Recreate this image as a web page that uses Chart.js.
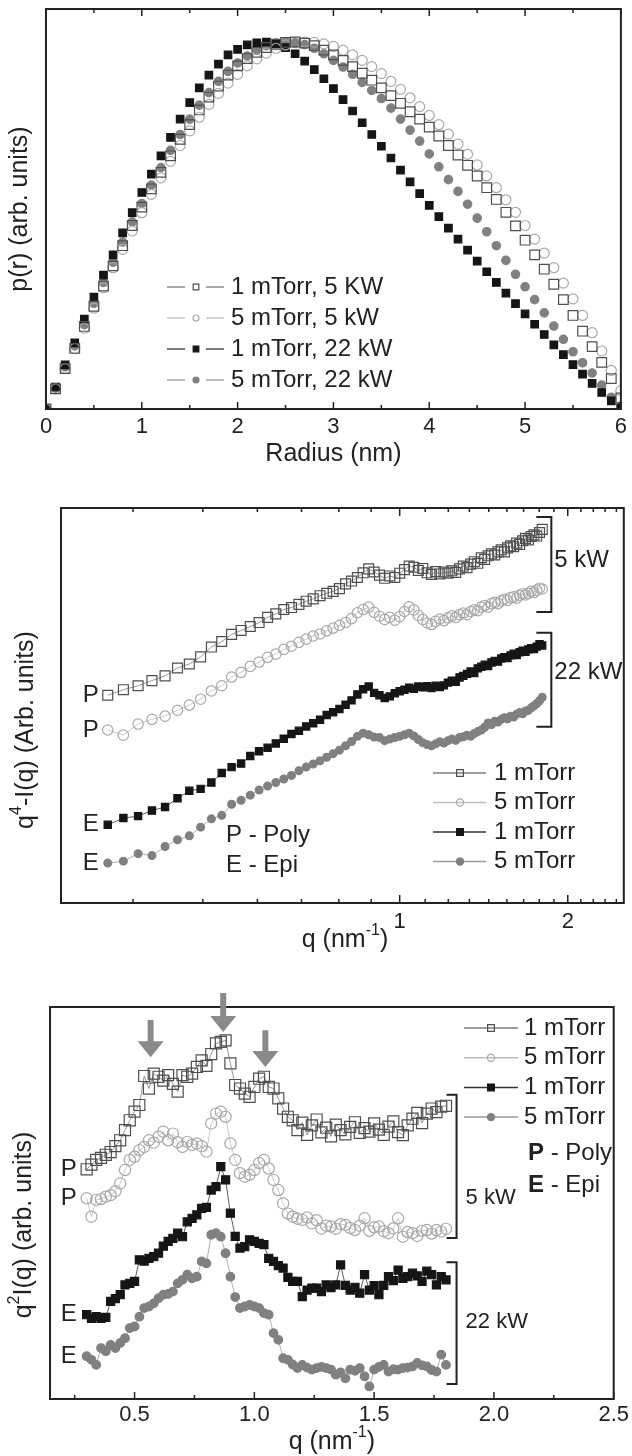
<!DOCTYPE html>
<html>
<head>
<meta charset="utf-8">
<script src="https://cdn.jsdelivr.net/npm/chart.js@4.4.1/dist/chart.umd.min.js"></script>
<style>
  html, body { margin: 0; padding: 0; background: #fff; }
  body { width: 632px; height: 1456px; position: relative; overflow: hidden; }
  .panel { position: absolute; left: 0; width: 632px; }
</style>
</head>
<body>
<div class="panel" style="top:0;height:480px"><canvas id="pr"></canvas></div>
<div class="panel" style="top:480px;height:480px"><canvas id="porod"></canvas></div>
<div class="panel" style="top:960px;height:496px"><canvas id="kratky"></canvas></div>
<script>
// ---------- panel 1: pair distance distribution p(r) ----------
const radius = [0.0,0.1,0.2,0.3,0.4,0.5,0.6,0.7,0.8,0.9,1.0,1.1,1.2,1.3,1.4,1.5,1.6,1.7,1.8,1.9,
  2.0,2.1,2.2,2.3,2.4,2.5,2.6,2.7,2.8,2.9,3.0,3.1,3.2,3.3,3.4,3.5,3.6,3.7,3.8,3.9,
  4.0,4.1,4.2,4.3,4.4,4.5,4.6,4.7,4.8,4.9,5.0,5.1,5.2,5.3,5.4,5.5,5.6,5.7,5.8,5.9,6.0];
const pr_1mT_5kW = [0,0.055,0.11,0.165,0.225,0.28,0.335,0.39,0.445,0.5,0.55,0.6,0.645,0.69,0.735,0.775,0.815,0.85,0.88,0.91,
  0.935,0.955,0.972,0.985,0.994,0.999,1.0,0.997,0.99,0.978,0.965,0.95,0.933,0.915,0.896,0.875,0.854,0.833,0.81,0.79,
  0.768,0.744,0.718,0.692,0.664,0.635,0.603,0.571,0.536,0.499,0.46,0.42,0.381,0.34,0.298,0.255,0.212,0.17,0.127,0.083,0.03];
const pr_5mT_5kW = [0,0.055,0.11,0.165,0.22,0.275,0.33,0.385,0.435,0.485,0.535,0.585,0.63,0.675,0.718,0.758,0.795,0.83,0.86,0.888,
  0.912,0.935,0.954,0.97,0.983,0.992,0.998,1.0,0.999,0.995,0.988,0.978,0.965,0.95,0.933,0.914,0.893,0.871,0.848,0.824,
  0.8,0.775,0.749,0.722,0.694,0.665,0.635,0.603,0.57,0.536,0.5,0.463,0.425,0.385,0.343,0.3,0.255,0.208,0.158,0.105,0.05];
const pr_1mT_22kW = [0,0.06,0.12,0.18,0.245,0.305,0.365,0.42,0.48,0.535,0.59,0.64,0.69,0.74,0.79,0.835,0.875,0.91,0.94,0.965,
  0.98,0.992,0.998,1.0,0.995,0.985,0.968,0.948,0.925,0.9,0.873,0.843,0.812,0.78,0.748,0.716,0.684,0.651,0.619,0.587,
  0.555,0.524,0.493,0.463,0.433,0.403,0.374,0.345,0.316,0.287,0.259,0.231,0.203,0.175,0.148,0.121,0.095,0.07,0.045,0.022,0.003];
const pr_5mT_22kW = [0,0.057,0.115,0.172,0.23,0.288,0.345,0.4,0.455,0.51,0.56,0.61,0.658,0.705,0.748,0.79,0.828,0.862,0.893,0.92,
  0.943,0.962,0.978,0.99,0.997,1.0,0.998,0.993,0.983,0.968,0.95,0.932,0.912,0.89,0.868,0.846,0.82,0.79,0.76,0.73,
  0.695,0.66,0.625,0.593,0.558,0.52,0.483,0.445,0.405,0.367,0.333,0.298,0.262,0.226,0.19,0.156,0.126,0.098,0.065,0.032,0.008];
const radiusTicks = [0,0.5,1,1.5,2,2.5,3,3.5,4,4.5,5,5.5,6];
const prLegend = ['1 mTorr, 5 KW', '5 mTorr, 5 kW', '1 mTorr, 22 kW', '5 mTorr, 22 kW'];

// ---------- shared q grid (nm^-1) for panels 2 and 3 ----------
const q = [0.30,0.32,0.34,0.36,0.38,0.40,0.42,0.44,0.46,0.48,0.50,0.52,0.54,0.56,0.58,0.60,0.62,0.64,0.66,0.68,
  0.70,0.72,0.74,0.76,0.78,0.80,0.82,0.84,0.86,0.88,0.90,0.92,0.94,0.96,0.98,1.00,1.02,1.04,1.06,1.08,
  1.10,1.12,1.14,1.16,1.18,1.20,1.22,1.24,1.26,1.28,1.30,1.32,1.34,1.36,1.38,1.40,1.42,1.44,1.46,1.48,
  1.50,1.52,1.54,1.56,1.58,1.60,1.62,1.64,1.66,1.68,1.70,1.72,1.74,1.76,1.78,1.80];

// ---------- panel 2: q^4 I(q), log q axis ----------
const porod_1mT_5kW = [52.6,54.0,55.0,56.3,57.5,59.5,60.5,62.3,64.8,66.2,68.0,69.0,70.0,71.0,72.3,73.2,74.3,74.8,75.6,76.4,
  77.0,77.8,78.4,78.9,79.6,80.8,81.5,82.4,83.6,84.6,83.8,83.0,82.2,82.8,82.4,83.5,84.4,85.3,85.0,84.2,
  84.7,83.6,83.2,83.9,83.3,83.8,83.5,84.1,83.7,84.6,85.3,84.9,85.8,86.4,86.0,87.4,87.0,87.9,88.4,88.1,
  88.9,89.4,88.9,89.9,90.4,90.2,91.1,90.8,91.7,92.3,91.9,92.8,93.2,92.9,93.8,94.6];
const porod_5mT_5kW = [43.8,42.5,45.3,46.5,47.3,48.8,50.1,51.6,53.7,55.0,57.2,58.4,59.9,61.0,62.2,63.0,64.2,65.0,66.0,66.8,
  67.6,68.1,68.9,69.6,70.3,71.0,72.0,73.5,74.3,74.9,73.6,72.6,71.8,72.3,71.6,72.5,73.8,75.0,74.2,72.8,
  71.8,70.9,70.5,71.3,71.9,71.5,72.2,72.7,72.3,73.0,73.4,73.0,73.8,74.2,74.0,74.9,75.3,74.9,75.8,76.1,
  75.8,76.5,76.9,76.6,77.3,77.5,77.2,77.9,78.3,78.0,78.4,78.9,78.6,79.2,79.7,79.5];
const porod_1mT_22kW = [19.8,21.5,22.0,23.4,24.3,26.5,28.4,28.9,30.5,32.9,34.4,35.3,37.2,38.4,39.3,40.4,41.6,42.8,43.6,44.7,
  45.5,46.4,47.6,48.3,49.1,50.2,51.3,52.8,54.1,54.8,53.2,52.6,51.9,52.3,53.1,53.6,54.0,54.5,54.2,54.8,
  54.6,54.9,54.4,55.0,54.7,55.1,55.8,56.3,56.0,57.1,57.5,58.0,58.6,58.2,59.4,59.8,60.3,60.0,60.9,61.3,
  61.1,61.9,62.2,62.0,62.7,63.1,62.8,63.5,63.9,63.6,64.2,64.5,64.3,64.9,65.5,65.2];
const porod_5mT_22kW = [10.1,10.6,12.5,12.0,14.3,16.0,17.0,19.2,21.3,22.2,25.0,26.0,27.3,28.6,29.6,30.5,31.4,32.3,33.5,34.4,
  35.2,36.0,36.9,37.8,38.7,39.8,40.9,42.2,43.0,42.6,42.0,41.9,41.1,41.5,41.9,42.2,42.6,43.0,42.3,41.4,
  40.6,40.1,39.8,40.3,40.8,40.5,41.1,41.5,41.2,41.9,42.1,42.5,42.2,42.9,43.4,43.8,44.5,45.6,45.2,46.0,
  45.8,46.5,46.9,46.6,47.3,47.1,47.8,48.2,47.9,48.6,48.8,49.4,49.9,50.5,51.2,52.1];
const porodTicks = [0.333,0.444,0.556,0.667,0.778,0.889,1,1.111,1.222,1.333,1.444,1.556,1.667,1.778,1.889,2,2.111,2.222,2.333,2.444];
const porodLabelled = [1, 2];

// ---------- panel 3: q^2 I(q), linear q axis ----------
const kratky_1mT_5kW = [58.6,59.8,61.0,61.5,62.3,63.0,64.5,66.0,68.6,71.1,73.3,75.0,82.4,79.2,83.0,82.2,81.2,82.6,80.4,78.4,
  82.6,82.2,83.0,84.7,86.4,85.0,88.0,90.7,91.1,91.5,85.6,80.1,79.2,77.9,77.1,79.6,81.7,82.2,79.6,79.2,
  76.7,74.1,72.0,71.1,68.6,70.5,67.4,69.8,71.3,68.0,69.2,67.0,70.0,68.6,67.5,69.4,70.6,67.9,69.1,68.2,
  70.3,68.7,67.4,69.5,70.8,68.1,67.3,69.8,71.5,73.0,70.4,72.8,74.1,73.2,74.6,74.8];
const kratky_5mT_5kW = [51.2,46.5,50.8,51.0,51.6,52.0,53.0,55.0,58.4,61.0,61.8,63.5,64.3,66.0,65.4,66.9,68.2,66.0,67.7,65.5,
  64.3,65.6,64.8,65.2,64.5,63.1,70.3,72.8,73.3,72.0,65.2,61.0,57.6,56.7,57.2,58.4,60.2,61.0,58.8,55.9,
  53.3,49.9,47.3,46.5,46.0,45.7,46.3,44.8,45.6,43.5,44.2,44.0,43.4,44.6,44.4,43.6,43.1,44.2,46.1,42.9,
  43.8,44.0,42.8,42.3,43.5,46.1,41.4,42.6,42.3,41.6,42.9,43.1,42.2,43.1,42.7,43.4];
const kratky_1mT_22kW = [21.5,20.6,21.0,20.6,20.8,24.9,25.6,26.6,29.1,29.5,30.0,35.5,35.2,35.9,36.3,37.2,39.0,40.2,41.0,42.3,
  41.4,45.2,46.1,47.0,48.6,48.9,53.3,54.2,59.3,55.9,47.4,41.5,38.5,38.9,40.6,40.2,39.7,39.4,35.9,35.1,
  34.0,33.4,31.0,30.0,30.0,26.1,27.8,28.3,28.3,27.4,29.1,28.4,29.1,34.2,29.0,27.8,28.5,27.0,31.7,27.8,
  28.9,26.6,29.0,31.2,30.2,32.9,30.8,31.2,32.1,31.4,30.0,32.6,31.7,29.1,31.2,30.4];
const kratky_5mT_22kW = [10.9,10.0,8.7,13.0,12.2,13.8,13.0,14.3,15.5,18.1,18.5,21.0,23.2,23.6,24.4,25.7,26.6,26.8,27.4,29.5,
  30.4,31.7,30.8,31.2,35.1,34.6,41.9,42.3,41.4,37.2,31.2,26.0,23.2,23.6,24.0,23.6,23.2,21.9,21.5,16.8,
  15.1,10.4,10.0,8.8,7.9,8.7,8.0,7.5,7.9,8.2,7.9,7.5,6.2,6.8,5.3,7.5,7.2,7.9,5.8,3.2,
  7.5,8.2,8.7,7.0,7.6,7.5,7.9,8.0,8.3,9.2,8.6,8.3,7.4,7.0,11.3,8.7];
const kratkyTicks = [0.25,0.5,0.75,1.0,1.25,1.5,1.75,2.0,2.25,2.5];
const seriesLegend = ['1 mTorr', '5 mTorr', '1 mTorr', '5 mTorr'];
const sampleLabels = ['P', 'P', 'E', 'E'];

// annotation anchors, in data units of each panel
const porodBrackets = [
  { q: 1.869, top: 97.7, bottom: 73.7, label: '5 kW', at: 86.8 },
  { q: 1.869, top: 68.4, bottom: 44.6, label: '22 kW', at: 58.5 }
];
const kratkyBrackets = [
  { q: 1.844, top: 77.6, bottom: 41.1, label: '5 kW', at: 51.3 },
  { q: 1.844, top: 34.9, bottom: 3.8, label: '22 kW', at: 19.6 }
];
const kratkyArrows = { q: [0.567, 0.87, 1.046], tail: [96.7, 103.6, 94.1], tip: [87.2, 93.6, 84.7] };

// ---------- styles ----------
const FONT = "'Liberation Sans', Arial, Helvetica, sans-serif";
const INK = '#222';
const STYLES = [
  { pointStyle: 'rect',   stroke: '#4f4f4f', fill: 'rgba(255,255,255,0)', line: '#7c7c7c' },
  { pointStyle: 'circle', stroke: '#a9a9a9', fill: 'rgba(255,255,255,0)', line: '#bdbdbd' },
  { pointStyle: 'rect',   stroke: '#151515', fill: '#151515', line: '#333' },
  { pointStyle: 'circle', stroke: '#808080', fill: '#808080', line: '#9a9a9a' }
];

function dataset(xs, ys, style, r, showLine) {
  return {
    data: xs.map((x, i) => ({ x: x, y: ys[i] })),
    showLine: showLine,
    borderColor: style.line,
    borderWidth: 0.8,
    pointStyle: style.pointStyle,
    pointRadius: r,
    pointHoverRadius: r,
    pointBorderColor: style.stroke,
    pointBackgroundColor: style.fill,
    pointBorderWidth: 1.2
  };
}

// ---------- drawing helpers ----------
function frame(chart, opts) {
  const { ctx, chartArea: a } = chart;
  const xs = chart.scales.x;
  ctx.save();
  ctx.strokeStyle = INK;
  ctx.lineWidth = 1.5;
  xs.ticks.forEach(t => {
    const x = xs.getPixelForValue(t.value);
    const len = opts.isMajor(t.value) ? opts.major : opts.minor;
    ctx.beginPath();
    ctx.moveTo(x, a.bottom); ctx.lineTo(x, a.bottom - len);
    if (opts.top) { ctx.moveTo(x, a.top); ctx.lineTo(x, a.top + len); }
    ctx.stroke();
  });
  ctx.lineWidth = 2;
  ctx.strokeRect(a.left, a.top, a.right - a.left, a.bottom - a.top);
  ctx.restore();
}

function text(ctx, s, x, y, size, align, weight) {
  ctx.save();
  ctx.font = (weight || '') + ' ' + size + 'px ' + FONT;
  ctx.textAlign = align || 'left';
  ctx.textBaseline = 'middle';
  ctx.fillStyle = INK;
  ctx.fillText(s, x, y);
  const w = ctx.measureText(s).width;
  ctx.restore();
  return w;
}

// parts: [[text, isSuperscript], ...], centred on (x, y)
function rich(ctx, parts, x, y, size, rotate) {
  ctx.save();
  ctx.translate(x, y);
  if (rotate) ctx.rotate(-Math.PI / 2);
  const small = Math.round(size * 0.62);
  let w = 0;
  parts.forEach(p => { ctx.font = (p[1] ? small : size) + 'px ' + FONT; w += ctx.measureText(p[0]).width; });
  let cx = -w / 2;
  ctx.textBaseline = 'middle';
  ctx.textAlign = 'left';
  ctx.fillStyle = INK;
  parts.forEach(p => {
    ctx.font = (p[1] ? small : size) + 'px ' + FONT;
    ctx.fillText(p[0], cx, p[1] ? -size * 0.36 : 0);
    cx += ctx.measureText(p[0]).width;
  });
  ctx.restore();
}

function seg(ctx, x0, y0, x1, y1, color, width) {
  ctx.save();
  ctx.strokeStyle = color;
  ctx.lineWidth = width;
  ctx.beginPath(); ctx.moveTo(x0, y0); ctx.lineTo(x1, y1); ctx.stroke();
  ctx.restore();
}

function marker(ctx, style, x, y, r) {
  ctx.save();
  ctx.fillStyle = style.fill;
  ctx.strokeStyle = style.stroke;
  ctx.lineWidth = 1.2;
  Chart.helpers.drawPoint(ctx, { pointStyle: style.pointStyle, radius: r, rotation: 0, borderWidth: 1.2 }, x, y);
  ctx.restore();
}

function bracket(ctx, x, y0, y1, len) {
  ctx.save();
  ctx.strokeStyle = INK;
  ctx.lineWidth = 2;
  ctx.beginPath();
  ctx.moveTo(x - len, y0); ctx.lineTo(x, y0); ctx.lineTo(x, y1); ctx.lineTo(x - len, y1);
  ctx.stroke();
  ctx.restore();
}

function downArrow(ctx, x, y0, y1) {
  const headLen = 16, headHalf = 13, shaftHalf = 3;
  ctx.save();
  ctx.fillStyle = '#8a8a8a';
  ctx.beginPath();
  ctx.moveTo(x - shaftHalf, y0); ctx.lineTo(x + shaftHalf, y0);
  ctx.lineTo(x + shaftHalf, y1 - headLen); ctx.lineTo(x + headHalf, y1 - headLen);
  ctx.lineTo(x, y1);
  ctx.lineTo(x - headHalf, y1 - headLen); ctx.lineTo(x - shaftHalf, y1 - headLen);
  ctx.closePath(); ctx.fill();
  ctx.restore();
}

function sampleTags(chart, series, gap) {
  const { ctx, scales: { x, y } } = chart;
  series.forEach((vals, i) => {
    text(ctx, sampleLabels[i], x.getPixelForValue(q[0]) - gap, y.getPixelForValue(vals[0]), 24, 'right');
  });
}

function makeChart(id, datasets, xOpts, yMax, padding, xHeight, draw) {
  return new Chart(document.getElementById(id), {
    type: 'scatter',
    data: { datasets: datasets },
    options: {
      responsive: true,
      maintainAspectRatio: false,
      animation: false,
      layout: { padding: padding },
      plugins: { legend: { display: false }, tooltip: { enabled: false } },
      scales: {
        x: Object.assign({
          position: 'bottom',
          grid: { display: false, drawTicks: false },
          border: { display: false },
          afterFit: s => { s.height = xHeight; }
        }, xOpts),
        y: { display: false, min: 0, max: yMax }
      }
    },
    plugins: [{ id: 'deco_' + id, afterDraw: draw }]
  });
}

const tickFont = { family: FONT, size: 22 };

// ---------- panel 1 ----------
const prSeries = [pr_1mT_5kW, pr_5mT_5kW, pr_1mT_22kW, pr_5mT_22kW];
const prRadii = [6.8, 5.0, 5.3, 4.2];
makeChart('pr',
  prSeries.map((v, i) => dataset(radius, v, STYLES[i], prRadii[i], false)),
  {
    type: 'linear', min: 0, max: 6,
    afterBuildTicks: s => { s.ticks = radiusTicks.map(v => ({ value: v })); },
    ticks: { font: tickFont, color: INK, padding: 5, autoSkip: false, maxRotation: 0,
      callback: v => Number.isInteger(v) ? String(v) : '' }
  },
  1.09, { left: 46, right: 9, top: 9, bottom: 0 }, 71,
  chart => {
    const { ctx, chartArea: a } = chart;
    frame(chart, { top: true, major: 7, minor: 4, isMajor: v => Number.isInteger(v) });
    rich(ctx, [['Radius (nm)', false]], (a.left + a.right) / 2, a.bottom + 45, 25);
    rich(ctx, [['p(r) (arb. units)', false]], 20, (a.top + a.bottom) / 2, 25, true);
    prLegend.forEach((label, i) => {
      const yy = a.top + 278 + i * 31;
      const st = STYLES[i];
      seg(ctx, a.left + 121, yy, a.left + 139, yy, st.line, 1.3);
      seg(ctx, a.left + 160, yy, a.left + 178, yy, st.line, 1.3);
      marker(ctx, st, a.left + 150, yy, st.pointStyle === 'rect' ? 4 : 3);
      text(ctx, label, a.left + 185, yy, 24, 'left');
    });
  });

// ---------- panel 2 ----------
const porodSeries = [porod_1mT_5kW, porod_5mT_5kW, porod_1mT_22kW, porod_5mT_22kW];
const porodRadii = [7.0, 5.2, 5.1, 3.9];
makeChart('porod',
  porodSeries.map((v, i) => dataset(q, v, STYLES[i], porodRadii[i], true)),
  {
    type: 'logarithmic', min: 0.2474, max: 2.52,
    afterBuildTicks: s => { s.ticks = porodTicks.map(v => ({ value: v })); },
    ticks: { font: tickFont, color: INK, padding: 6, autoSkip: false, maxRotation: 0,
      callback: v => porodLabelled.indexOf(v) >= 0 ? String(v) : '' }
  },
  100, { left: 61, right: 3, top: 28, bottom: 0 }, 57,
  chart => {
    const { ctx, chartArea: a, scales: { x, y } } = chart;
    frame(chart, { top: true, major: 8, minor: 4, isMajor: v => porodLabelled.indexOf(v) >= 0 });
    rich(ctx, [['q (nm', false], ['-1', true], [')', false]], 345, a.bottom + 37, 25);
    rich(ctx, [['q', false], ['4', true], ['-I(q) (Arb. units)', false]], 26, 250, 25, true);
    sampleTags(chart, porodSeries, 9);
    porodBrackets.forEach(b => {
      const bx = x.getPixelForValue(b.q);
      bracket(ctx, bx, y.getPixelForValue(b.top), y.getPixelForValue(b.bottom), 15);
      text(ctx, b.label, bx + 3, y.getPixelForValue(b.at), 24, 'left');
    });
    seriesLegend.forEach((label, i) => {
      const yy = a.top + 265 + i * 29.5;
      const st = STYLES[i];
      seg(ctx, 433, yy, 486, yy, st.line, 1.5);
      marker(ctx, st, 460, yy, st.pointStyle === 'rect' ? 4.8 : 3.6);
      text(ctx, label, 494, yy, 24, 'left');
    });
    text(ctx, 'P - Poly', 226, 355, 24, 'left');
    text(ctx, 'E - Epi', 226, 385, 24, 'left');
  });

// ---------- panel 3 ----------
const kratkySeries = [kratky_1mT_5kW, kratky_5mT_5kW, kratky_1mT_22kW, kratky_5mT_22kW];
const kratkyRadii = [7.8, 5.6, 5.7, 4.3];
makeChart('kratky',
  kratkySeries.map((v, i) => dataset(q, v, STYLES[i], kratkyRadii[i], true)),
  {
    type: 'linear', min: 0.147, max: 2.5,
    afterBuildTicks: s => { s.ticks = kratkyTicks.map(v => ({ value: v })); },
    ticks: { font: tickFont, color: INK, padding: 3, autoSkip: false, maxRotation: 0,
      callback: v => Math.abs(v * 2 - Math.round(v * 2)) < 1e-9 ? v.toFixed(1) : '' }
  },
  100, { left: 50, right: 17, top: 47, bottom: 0 }, 57,
  chart => {
    const { ctx, chartArea: a, scales: { x, y } } = chart;
    frame(chart, { top: false, major: 7, minor: 4, isMajor: v => Math.abs(v * 2 - Math.round(v * 2)) < 1e-9 });
    rich(ctx, [['q (nm', false], ['-1', true], [')', false]], (a.left + a.right) / 2, a.bottom + 43, 25);
    rich(ctx, [['q', false], ['2', true], ['I(q) (arb. units)', false]], 24, 265, 25, true);
    sampleTags(chart, kratkySeries, 10);
    kratkyArrows.q.forEach((qq, i) => {
      downArrow(ctx, x.getPixelForValue(qq), y.getPixelForValue(kratkyArrows.tail[i]), y.getPixelForValue(kratkyArrows.tip[i]));
    });
    kratkyBrackets.forEach(b => {
      const bx = x.getPixelForValue(b.q);
      bracket(ctx, bx, y.getPixelForValue(b.top), y.getPixelForValue(b.bottom), 10);
      text(ctx, b.label, bx + 9, y.getPixelForValue(b.at), 22, 'left');
    });
    seriesLegend.forEach((label, i) => {
      const yy = a.top + 21 + i * 29.7;
      const st = STYLES[i];
      seg(ctx, a.left + 414, yy, a.left + 468, yy, st.line, 1.5);
      marker(ctx, st, a.left + 441, yy, st.pointStyle === 'rect' ? 4.8 : 3.6);
      text(ctx, label, a.left + 474, yy, 24, 'left');
    });
    const wP = text(ctx, 'P', a.left + 478, a.top + 146, 24, 'left', 'bold');
    text(ctx, ' - Poly', a.left + 478 + wP, a.top + 146, 24, 'left');
    const wE = text(ctx, 'E', a.left + 478, a.top + 178, 24, 'left', 'bold');
    text(ctx, ' - Epi', a.left + 478 + wE, a.top + 178, 24, 'left');
  });
</script>
</body>
</html>
